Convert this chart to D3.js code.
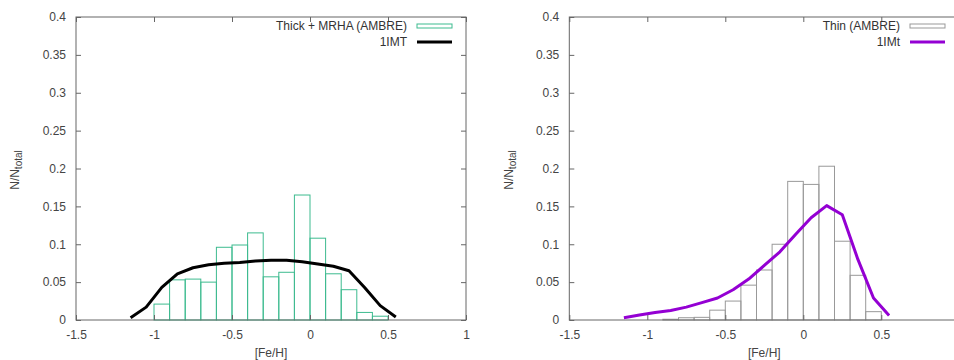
<!DOCTYPE html>
<html>
<head>
<meta charset="utf-8">
<script src="https://cdn.jsdelivr.net/npm/d3@7"></script>
<style>
  body { margin: 0; background: #fff; }
  svg { display: block; font-family: "Liberation Sans", Arial, sans-serif; }
</style>
</head>
<body>
<script>
// bin left edges ([Fe/H]) and fractions N/Ntotal
const thickBins = [-1, -0.9, -0.8, -0.7, -0.6, -0.5, -0.4, -0.3, -0.2, -0.1, 0, 0.1, 0.2, 0.3, 0.4];
const thickFrac = [0.021, 0.053, 0.054, 0.050, 0.096, 0.099, 0.115, 0.057, 0.063, 0.165, 0.108, 0.061, 0.040, 0.010, 0.005];

const thinBins = [-0.9, -0.8, -0.7, -0.6, -0.5, -0.4, -0.3, -0.2, -0.1, 0, 0.1, 0.2, 0.3, 0.4];
const thinFrac = [0.001, 0.003, 0.0035, 0.013, 0.025, 0.046, 0.066, 0.100, 0.183, 0.179, 0.203, 0.104, 0.059, 0.011];

// model curves
const modelFeH = [-1.15, -1.05, -0.95, -0.85, -0.75, -0.65, -0.55, -0.45, -0.35, -0.25, -0.15, -0.05, 0.05, 0.15, 0.25, 0.35, 0.45, 0.55];
const imtThick = [0.003, 0.017, 0.043, 0.061, 0.069, 0.073, 0.075, 0.076, 0.078, 0.079, 0.079, 0.077, 0.074, 0.071, 0.065, 0.043, 0.019, 0.004];
const imtThin  = [0.003, 0.0065, 0.010, 0.0125, 0.017, 0.023, 0.029, 0.040, 0.054, 0.072, 0.090, 0.113, 0.135, 0.151, 0.139, 0.080, 0.029, 0.006];

const xTicks = [-1.5, -1, -0.5, 0, 0.5, 1];
const yTicks = [0, 0.05, 0.1, 0.15, 0.2, 0.25, 0.3, 0.35, 0.4];
const binWidth = 0.1;

const width = 954, height = 360;
const plotTop = 17, plotBottom = 320;

const svg = d3.select("body").append("svg")
  .attr("width", width)
  .attr("height", height)
  .attr("viewBox", [0, 0, width, height]);

const drawPanel = (p) => {
  const x = d3.scaleLinear().domain([-1.5, 1]).range([p.left, p.left + 390]);
  const y = d3.scaleLinear().domain([0, 0.4]).range([plotBottom, plotTop]);
  const g = svg.append("g");

  // the right panel is cut by the page edge, its last label is not shown
  const fmt = d => (x(d) > width - 8 ? "" : String(d));

  // bars
  g.selectAll("rect.bar")
    .data(p.bins.map((b, i) => ({b: b, v: p.frac[i]})))
    .join("rect")
    .attr("class", "bar")
    .attr("x", d => x(d.b))
    .attr("y", d => y(d.v))
    .attr("width", d => x(d.b + binWidth) - x(d.b))
    .attr("height", d => y(0) - y(d.v))
    .attr("fill", "none")
    .attr("stroke", p.barColor)
    .attr("stroke-width", 1);

  // model line
  const line = d3.line().x(d => x(d[0])).y(d => y(d[1]));
  g.append("path")
    .datum(modelFeH.map((f, i) => [f, p.model[i]]))
    .attr("d", line)
    .attr("fill", "none")
    .attr("stroke", p.lineColor)
    .attr("stroke-width", 3)
    .attr("stroke-linejoin", "round");

  // axes (ticks inward on all four sides)
  const styleAxis = sel => {
    sel.select(".domain").remove();
    sel.selectAll(".tick line").attr("stroke", "#666");
    sel.selectAll("text").attr("fill", "#444").style("font-size", "12px");
  };

  g.append("g")
    .attr("transform", `translate(0,${plotBottom})`)
    .call(d3.axisBottom(x).tickValues(xTicks).tickFormat(fmt).tickSizeInner(-5).tickSizeOuter(0).tickPadding(10))
    .call(styleAxis);
  g.append("g")
    .attr("transform", `translate(0,${plotTop})`)
    .call(d3.axisTop(x).tickValues(xTicks).tickFormat("").tickSizeInner(-5).tickSizeOuter(0))
    .call(styleAxis);
  g.append("g")
    .attr("transform", `translate(${x(-1.5)},0)`)
    .call(d3.axisLeft(y).tickValues(yTicks).tickFormat(d => String(d)).tickSizeInner(-5).tickSizeOuter(0).tickPadding(10))
    .call(styleAxis);
  g.append("g")
    .attr("transform", `translate(${x(1)},0)`)
    .call(d3.axisRight(y).tickValues(yTicks).tickFormat("").tickSizeInner(-5).tickSizeOuter(0))
    .call(styleAxis);

  g.append("rect")
    .attr("x", x(-1.5)).attr("y", plotTop)
    .attr("width", x(1) - x(-1.5)).attr("height", plotBottom - plotTop)
    .attr("fill", "none").attr("stroke", "#666").attr("stroke-width", 1);

  // axis titles
  g.append("text")
    .attr("x", (x(-1.5) + x(1)) / 2).attr("y", 357)
    .attr("text-anchor", "middle").attr("fill", "#444").style("font-size", "12px")
    .text("[Fe/H]");

  const yl = g.append("text")
    .attr("transform", `translate(${p.ylabelX},170) rotate(-90)`)
    .attr("text-anchor", "middle").attr("fill", "#444").style("font-size", "12px");
  yl.append("tspan").text("N/N");
  yl.append("tspan").attr("dy", 3).style("font-size", "10px").text("total");

  // legend
  const lx = p.legendX;
  g.append("text")
    .attr("x", lx).attr("y", 30)
    .attr("text-anchor", "end").attr("fill", "#333").style("font-size", "12px")
    .text(p.barLabel);
  g.append("rect")
    .attr("x", lx + 10).attr("y", 24).attr("width", 35).attr("height", 4)
    .attr("fill", "none").attr("stroke", p.barColor);
  g.append("text")
    .attr("x", lx).attr("y", 46)
    .attr("text-anchor", "end").attr("fill", "#333").style("font-size", "12px")
    .text(p.lineLabel);
  g.append("line")
    .attr("x1", lx + 10).attr("x2", lx + 45).attr("y1", 42).attr("y2", 42)
    .attr("stroke", p.lineColor).attr("stroke-width", 3);
};

drawPanel({
  left: 76, bins: thickBins, frac: thickFrac, model: imtThick,
  barColor: "#3dbb8f", lineColor: "#000",
  barLabel: "Thick + MRHA (AMBRE)", lineLabel: "1IMT",
  legendX: 407, ylabelX: 19
});

drawPanel({
  left: 569.3, bins: thinBins, frac: thinFrac, model: imtThin,
  barColor: "#999", lineColor: "#9400d3",
  barLabel: "Thin (AMBRE)", lineLabel: "1IMt",
  legendX: 900, ylabelX: 513
});
</script>
</body>
</html>
